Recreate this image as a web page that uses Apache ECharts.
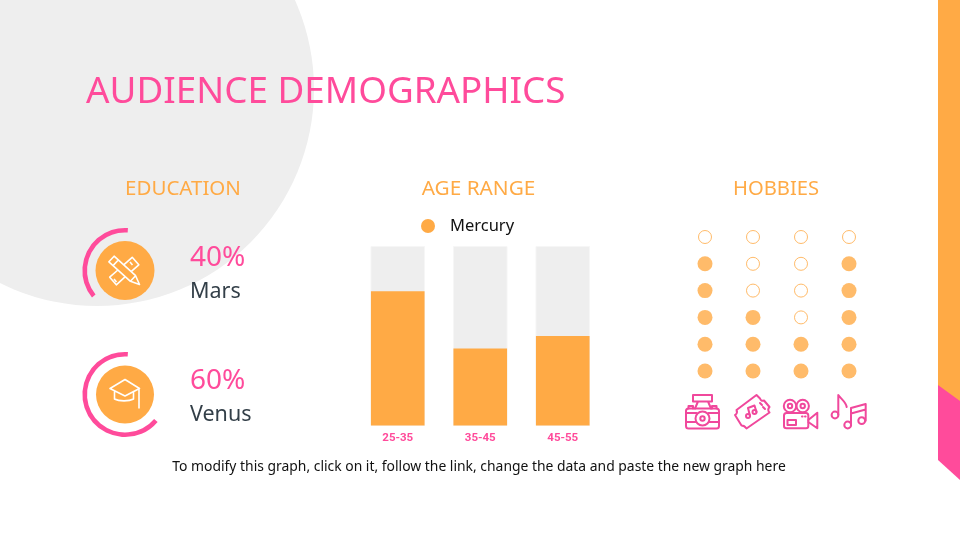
<!DOCTYPE html>
<html><head><meta charset="utf-8">
<style>html,body{margin:0;padding:0;background:#fff}#c{width:960px;height:540px}</style>
<script src="https://cdn.jsdelivr.net/npm/echarts@6/dist/echarts.min.js"></script>
</head><body><div id="c"></div>
<script>
// ---- data ----
const educationNames = ['Mars', 'Venus'];
const educationLabels = ['40%', '60%'];
const educationArcs = [37, 65];          // share of the ring actually drawn
const ageCategories = ['25-35', '35-45', '45-55'];
const ageValues = [75, 43, 50];
const ageSeriesName = 'Mercury';
const hobbyNames = ['Photography', 'Events', 'Cinema', 'Music'];
const hobbyFilled = [5, 3, 2, 5];
const hobbyRows = [1, 2, 3, 4, 5, 6];

const ORANGE = '#FFAA45', PINK = '#FF4B9B', GREY = '#EEEEEE', FONT = '"Noto Sans","Open Sans",sans-serif';
const ICON_PINK = '#F0489C';
const ringCenters = [[125, 270.5], [125, 394.5]];

const wl = (d, w) => ({type:'path', shape:{pathData:d}, style:{fill:null, stroke:'#fff', lineWidth:w||1.6, lineJoin:'round'}});
const pl = d => ({type:'path', shape:{pathData:d}, style:{fill:null, stroke:ICON_PINK, lineWidth:2, lineJoin:'round', lineCap:'round'}});
const circ = (cx, cy, r) => `M${cx+r},${cy}A${r},${r} 0 1 0 ${cx-r},${cy}A${r},${r} 0 1 0 ${cx+r},${cy}Z`;

const decorations = [
  {type:'circle', z:-5, shape:{cx:97, cy:89, r:217}, style:{fill:GREY}},
  {type:'rect', z:-4, shape:{x:938, y:0, width:22, height:405}, style:{fill:ORANGE}},
  {type:'polygon', z:-3, shape:{points:[[938,385],[960,401],[960,480],[938,460]]}, style:{fill:PINK}},
  {type:'circle', z:0, shape:{cx:ringCenters[0][0], cy:ringCenters[0][1], r:29.5}, style:{fill:ORANGE}},
  {type:'circle', z:0, shape:{cx:ringCenters[1][0], cy:ringCenters[1][1], r:29}, style:{fill:ORANGE}}
];

const icons = [
  // pencil and ruler
  wl('M114.1,256.2L108.9,261.8L130.4,281.3L139.5,284.5L135.6,275.7ZM130.4,281.3L135.6,275.7M118.3,260L113,265.6'),
  wl('M123.7,264.8L132.2,257.3L138.8,264.8L131.1,271.6M117.9,270L109.7,277.2L116.3,284.8L125.3,276.7M130,262L132.5,265M114,279L116.5,282'),
  // graduation cap
  wl('M125,379.5L110,388.5L125,396L139.5,388.5ZM114.5,391.5L114.5,399C119,401.5 129,401.5 133.5,399L133.5,391.5M139,388.5L139,408.5'),
  // camera
  pl('M686,411Q686,408.5 688.5,408.5L716.5,408.5Q719,408.5 719,411L719,426Q719,428.5 716.5,428.5L688.5,428.5Q686,428.5 686,426Z'),
  pl('M693,395L712,395L712,401.5L693,401.5ZM698,401.5L695,408.5M708,401.5L711,408.5M688.5,408.5L688.5,406L693,406L693,408.5M712,408.5L712,406L716.5,406L716.5,408.5'),
  pl('M686,413L696.5,413M708.5,413L719,413M686,422L695.5,422M709.5,422L719,422'),
  pl(circ(702.5,418.5,7)), pl(circ(702.5,418.5,2.2)),
  // ticket
  pl('M756.5,395L760,398.5Q761,401.5 764,400.5L769.5,407Q767,410 769.5,412.5L746.5,428.5Q744.5,425.5 741.5,425.5L735,415Q738,413 736.5,410Z'),
  pl(circ(748,416,2)), pl(circ(754.5,412,2)), pl('M750,416L748,408L754.5,405.5L756.5,412M760,403L762,405M763,407L765,409'),
  // movie camera
  pl(circ(790,406,6.2)), pl(circ(790,406,2.2)), pl(circ(802.7,406,6.2)), pl(circ(802.7,406,2.2)),
  pl('M786.5,413L806,413Q808.3,413 808.3,415.5L808.3,426Q808.3,428.3 806,428.3L786.5,428.3Q784,428.3 784,426L784,415.5Q784,413 786.5,413Z'),
  pl('M808.3,420L817.3,412.7L817.3,428.3L808.3,422M787.5,420L796,420L796,425L787.5,425ZM802,416.5L802.6,416.5M805,416.5L805.6,416.5'),
  // music notes
  pl(circ(835,415,3.4)), pl('M838.3,414.5L838.3,395C841,399 846,402 846.7,407'),
  pl(circ(847.7,425,3.4)), pl(circ(861.7,420.7,3.4)),
  pl('M851,425L851,408L865.7,404L865.7,420.7M851,413.5L865.7,409.5')
];

const ringSeries = educationArcs.map((v, i) => ({
  type:'pie', silent:true, center:ringCenters[i], radius:[38, 42.6], startAngle:86, clockwise:false,
  label:{show:false}, labelLine:{show:false}, emphasis:{disabled:true},
  data:[{value:v, name:educationNames[i], itemStyle:{color:PINK}},
        {value:100 - v, name:'rest', itemStyle:{color:'rgba(0,0,0,0)'}}]
}));

const emptySpots = [], filledSpots = [];
hobbyNames.forEach((name, c) => hobbyRows.forEach((row, r) => {
  (row <= hobbyFilled[c] ? filledSpots : emptySpots).push([c, r]);
}));

const head = (text, left, top, size, color, align) => ({
  text, left, top, padding:0, textAlign:align, textStyle:{fontFamily:FONT, fontWeight:'normal', fontSize:size, color}
});

const option = {
  animation:false,
  backgroundColor:'#fff',
  title:[
    head('AUDIENCE DEMOGRAPHICS', 86, 74, 36.8, PINK, 'left'),
    head('EDUCATION', 183, 179, 20.5, ORANGE, 'center'),
    head('AGE RANGE', 478.5, 179, 20.8, ORANGE, 'center'),
    head('HOBBIES', 776, 179, 20.2, ORANGE, 'center'),
    head(educationLabels[0], 190, 244, 28, PINK, 'left'),
    head(educationNames[0], 190, 281, 21.5, '#333F48', 'left'),
    head(educationLabels[1], 190, 367, 28, PINK, 'left'),
    head(educationNames[1], 190, 404, 21.5, '#333F48', 'left'),
    head('To modify this graph, click on it, follow the link, change the data and paste the new graph here', 479, 460, 13.9, '#111', 'center')
  ],
  legend:{left:421, top:217.5, padding:0, data:[ageSeriesName], icon:'circle', itemWidth:14, itemHeight:14,
    selectedMode:false, textStyle:{fontFamily:FONT, fontSize:16.5, color:'#111', padding:[0,0,0,10]}},
  grid:[
    {left:356.5, top:246.5, width:247.5, height:179},
    {left:681, top:223.6, width:192, height:160.8}
  ],
  xAxis:[
    {type:'category', gridIndex:0, data:ageCategories, axisLine:{show:false}, axisTick:{show:false},
     axisLabel:{color:PINK, fontFamily:'Roboto', fontWeight:'bold', fontSize:11.5, margin:7}},
    {type:'category', gridIndex:1, data:hobbyNames, show:false}
  ],
  yAxis:[
    {type:'value', gridIndex:0, min:0, max:100, show:false},
    {type:'category', gridIndex:1, data:hobbyRows, show:false}
  ],
  series:[
    ...ringSeries,
    {type:'bar', name:ageSeriesName, xAxisIndex:0, yAxisIndex:0, data:ageValues, barWidth:'65%', itemStyle:{color:ORANGE},
     showBackground:true, backgroundStyle:{color:GREY, borderColor:'#F6F6F6', borderWidth:1}},
    {type:'scatter', xAxisIndex:1, yAxisIndex:1, data:filledSpots, symbol:'circle', symbolSize:15, itemStyle:{color:ORANGE}},
    {type:'scatter', xAxisIndex:1, yAxisIndex:1, data:emptySpots, symbol:'circle', symbolSize:13, itemStyle:{color:'#fff', borderColor:ORANGE, borderWidth:1}},
    {type:'custom', coordinateSystem:'none', silent:true, data:[0], renderItem:() => ({type:'group', children:icons})}
  ],
  graphic:{elements:decorations}
};
echarts.init(document.getElementById('c')).setOption(option);
</script></body></html>
